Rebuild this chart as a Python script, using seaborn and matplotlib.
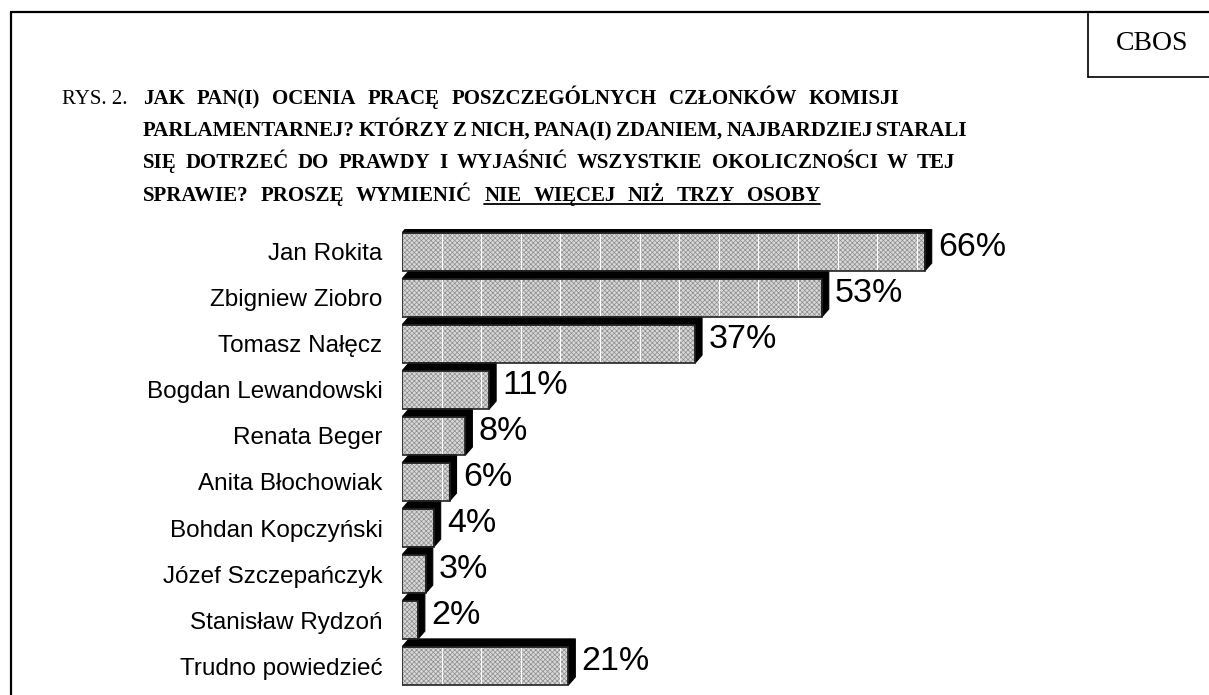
import matplotlib
matplotlib.use("Agg")
import matplotlib.pyplot as plt
import seaborn as sns
from matplotlib.patches import Polygon, Rectangle
from matplotlib.lines import Line2D

names = ["Jan Rokita", "Zbigniew Ziobro", "Tomasz Nałęcz", "Bogdan Lewandowski",
         "Renata Beger", "Anita Błochowiak", "Bohdan Kopczyński",
         "Józef Szczepańczyk", "Stanisław Rydzoń", "Trudno powiedzieć"]
values = [66, 53, 37, 11, 8, 6, 4, 3, 2, 21]
value_labels = [f"{v}%" for v in values]

title_head = "RYS. 2."
title_lines = ["JAK PAN(I) OCENIA PRACĘ POSZCZEGÓLNYCH CZŁONKÓW KOMISJI",
               "PARLAMENTARNEJ? KTÓRZY Z NICH, PANA(I) ZDANIEM, NAJBARDZIEJ STARALI",
               "SIĘ DOTRZEĆ DO PRAWDY I WYJAŚNIĆ WSZYSTKIE OKOLICZNOŚCI W TEJ",
               "SPRAWIE? PROSZĘ WYMIENIĆ NIE WIĘCEJ NIŻ TRZY OSOBY"]
n_underlined = 5  # last words of the last line are underlined

sns.set_theme(style="white")
plt.rcParams['font.family'] = ['Liberation Sans', 'DejaVu Sans']
plt.rcParams['text.color'] = 'black'
plt.rcParams['hatch.linewidth'] = 0.5

W, H = 1209, 695
fig = plt.figure(figsize=(W / 100, H / 100), dpi=100)

def fx(px):
    return px / W

def fy(py):
    return 1 - py / H

ax = fig.add_axes([fx(402), fy(689), 792 / W, 460 / H])
sns.barplot(x=values, y=names, orient="h", width=0.83, color="#d8d8d8",
            saturation=1, ax=ax)
ax.set_xlim(0, 100)
ax.set_ylim(9.5, -0.5)
for s in ax.spines.values():
    s.set_visible(False)
ax.set_xticks([])
ax.set_xlabel("")
ax.set_ylabel("")
ax.tick_params(axis="y", length=0, pad=14, labelsize=17.5, colors="black")

dx = 7 / 7.92
dy = 8 / 46
for p, lab in zip(ax.patches, value_labels):
    L = p.get_x()
    R = L + p.get_width()
    T = p.get_y()
    B = T + p.get_height()
    p.set_hatch("xxxxxxx")
    p.set_edgecolor("#8c8c8c")
    p.set_linewidth(0)
    p.set_zorder(2)
    shadow = Polygon([(L, T), (L + dx, T - dy), (R + dx, T - dy), (R + dx, B - dy),
                      (R, B), (R, T)], closed=True, facecolor="black",
                     edgecolor="black", lw=0.8, zorder=4)
    ax.add_patch(shadow)
    ax.add_patch(Rectangle((L, T), R - L, B - T, fill=False, edgecolor="#222222",
                           lw=1.2, zorder=5))
    ax.text(R + dx + 0.8, (T + B) / 2 - dy / 2, lab, fontsize=24.5, va="center",
            ha="left", color="black", zorder=6)

for g in range(5, 70, 5):
    ax.axvline(g, color="white", lw=0.8, zorder=3)

# frame and CBOS box
fig.add_artist(Line2D([fx(11), fx(11)], [fy(12), 0], color="black", lw=1.6))
fig.add_artist(Line2D([fx(11), 1], [fy(12), fy(12)], color="black", lw=1.6))
fig.add_artist(Line2D([fx(1088), fx(1088)], [fy(12), fy(77)], color="black", lw=1.2))
fig.add_artist(Line2D([fx(1088), 1], [fy(77), fy(77)], color="black", lw=1.2))
fig.text(fx(1152), fy(44), "CBOS", fontsize=20, family="Liberation Serif",
         ha="center", va="center")

# title, lines spread towards the measured right ends
tsize = 15
baselines = [104, 136, 168, 201]
line_ends = [965, 968, 955, 870]
max_extra = 9
fig.text(fx(62), fy(baselines[0]), title_head, fontsize=tsize,
         family="Liberation Serif", va="baseline")
r = fig.canvas.get_renderer()
space = fig.text(0, 0, "A A", fontsize=tsize, family="Liberation Serif", weight="bold")
sw = space.get_window_extent(r).width
space.set_text("AA")
sw -= space.get_window_extent(r).width
space.remove()
under = []
for li, (line, b, xe) in enumerate(zip(title_lines, baselines, line_ends)):
    words = line.split(" ")
    texts = [fig.text(0, fy(b), w, fontsize=tsize, family="Liberation Serif",
                      weight="bold", va="baseline") for w in words]
    widths = [t.get_window_extent(r).width for t in texts]
    gap = (xe - 143 - sum(widths)) / (len(words) - 1)
    gap = max(min(gap, sw + max_extra), sw)
    x = 143
    for i, (t, w) in enumerate(zip(texts, widths)):
        t.set_x(fx(x))
        if li == 3 and i >= len(words) - n_underlined:
            under.append((x, x + w))
        x += w + gap
fig.add_artist(Line2D([fx(under[0][0]), fx(under[-1][1])], [fy(baselines[3] + 3)] * 2,
                      color="black", lw=1.3))

fig.savefig("out.png", dpi=100)
